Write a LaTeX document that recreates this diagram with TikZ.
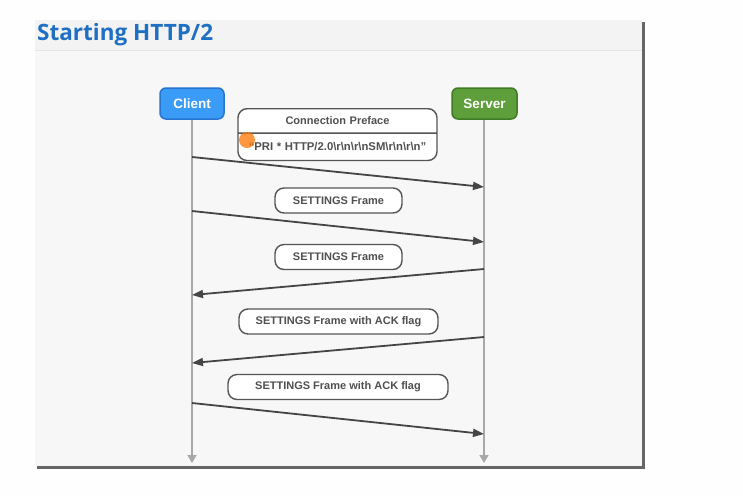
\documentclass[tikz,border=0pt]{standalone}
\usepackage{fontspec}
\setmainfont{Liberation Sans}
\newfontfamily\titlefont{Open Sans}
\usetikzlibrary{arrows.meta,shapes.multipart}
\definecolor{slidebg}{HTML}{F7F7F7}
\definecolor{headbg}{HTML}{F3F3F3}
\definecolor{titleblue}{HTML}{1F6FC5}
\definecolor{msgline}{HTML}{454545}
\definecolor{boxline}{HTML}{555555}
\definecolor{boxtext}{HTML}{505050}
\definecolor{lifegray}{HTML}{A8A8A8}
\definecolor{clientfill}{HTML}{3A9CF7}
\definecolor{clientline}{HTML}{2474D0}
\definecolor{serverfill}{HTML}{5E9F3B}
\definecolor{serverline}{HTML}{3F7A24}
\tikzset{
  party/.style={draw, line width=1.5pt, rounded corners=6pt, minimum width=64pt,
    minimum height=31pt, inner sep=0pt, text=white, font=\bfseries\fontsize{13.5}{15}\selectfont},
  framebox/.style={draw=boxline, line width=1.4pt, rounded corners=9pt, fill=white,
    minimum height=25pt, inner sep=0pt, text=boxtext, font=\bfseries\fontsize{11}{13}\selectfont},
  lifeline/.style={draw=lifegray, line width=1.6pt, -{Triangle[length=8pt,width=9pt]}},
  msg/.style={draw=msgline, line width=1.8pt, -{Triangle[length=11pt,width=8pt]}}
}
\begin{document}
\begin{tikzpicture}[x=1pt,y=-1pt]
  % canvas
  \useasboundingbox (0,0) rectangle (743,496);
  \fill[white!98!black!20!white] (0,0) rectangle (743,496);
  % slide with drop shadow
  \fill[black!60] (37,22) rectangle (644.5,468.5);
  \fill[slidebg] (35,20) rectangle (642,466);
  \fill[headbg] (35,20) rectangle (642,50);
  \draw[black!10, line width=0.8pt] (35,50) -- (642,50);
  \node[anchor=base west, inner sep=0pt, text=titleblue,
        font=\titlefont\bfseries\fontsize{22.5}{26}\selectfont] (title) at (37,40) {Starting HTTP/2};

  % participants
  \node[party, fill=clientfill, draw=clientline] (client) at (192,103.5) {Client};
  \node[party, fill=serverfill, draw=serverline, minimum width=65pt] (server) at (484.5,103.5) {Server};

  % lifelines
  \coordinate (cend) at (192,463);
  \coordinate (send) at (484,463);
  \draw[lifeline] (client.south) -- (cend);
  \draw[lifeline] (server.south -| send) -- (send);

  % message end points on the lifelines
  \coordinate (c1) at (192,157);  \coordinate (s1) at (484,187);
  \coordinate (c2) at (192,211);  \coordinate (s2) at (484,242);
  \coordinate (s3) at (484,269);  \coordinate (c3) at (192,295);
  \coordinate (s4) at (484,337);  \coordinate (c4) at (192,363);
  \coordinate (c5) at (192,403);  \coordinate (s5) at (484,434);

  \draw[msg] (c1) -- (s1);
  \draw[msg] (c2) -- (s2);
  \draw[msg] (s3) -- (c3);
  \draw[msg] (s4) -- (c4);
  \draw[msg] (c5) -- (s5);

  % frame labels
  \node[draw=boxline, line width=1.4pt, rounded corners=9pt, fill=white, text=boxtext,
        rectangle split, rectangle split parts=2, text width=199pt, align=center,
        inner sep=0pt, font=\bfseries\fontsize{11}{13}\selectfont,
        anchor=north] (preface) at (337.5,108)
        {\rule[-8pt]{0pt}{23pt}Connection Preface
         \nodepart{two}\rule[-9pt]{0pt}{26pt}\fontsize{11.3}{13}\selectfont ``PRI * HTTP/2.0\textbackslash r\textbackslash n\textbackslash r\textbackslash nSM\textbackslash r\textbackslash n\textbackslash r\textbackslash n''};
  \node[framebox, minimum width=127pt] (set1) at (338.5,200.5) {SETTINGS Frame};
  \node[framebox, minimum width=127pt] (set2) at (338.5,257) {SETTINGS Frame};
  \node[framebox, minimum width=199pt] (ack1) at (338.5,321.5) {SETTINGS Frame with ACK flag};
  \node[framebox, minimum width=220pt] (ack2) at (338,387) {SETTINGS Frame with ACK flag};

  % pointer highlight
  \fill[orange!90!red, opacity=0.75] (247,140) circle (8pt);
\end{tikzpicture}
\end{document}
